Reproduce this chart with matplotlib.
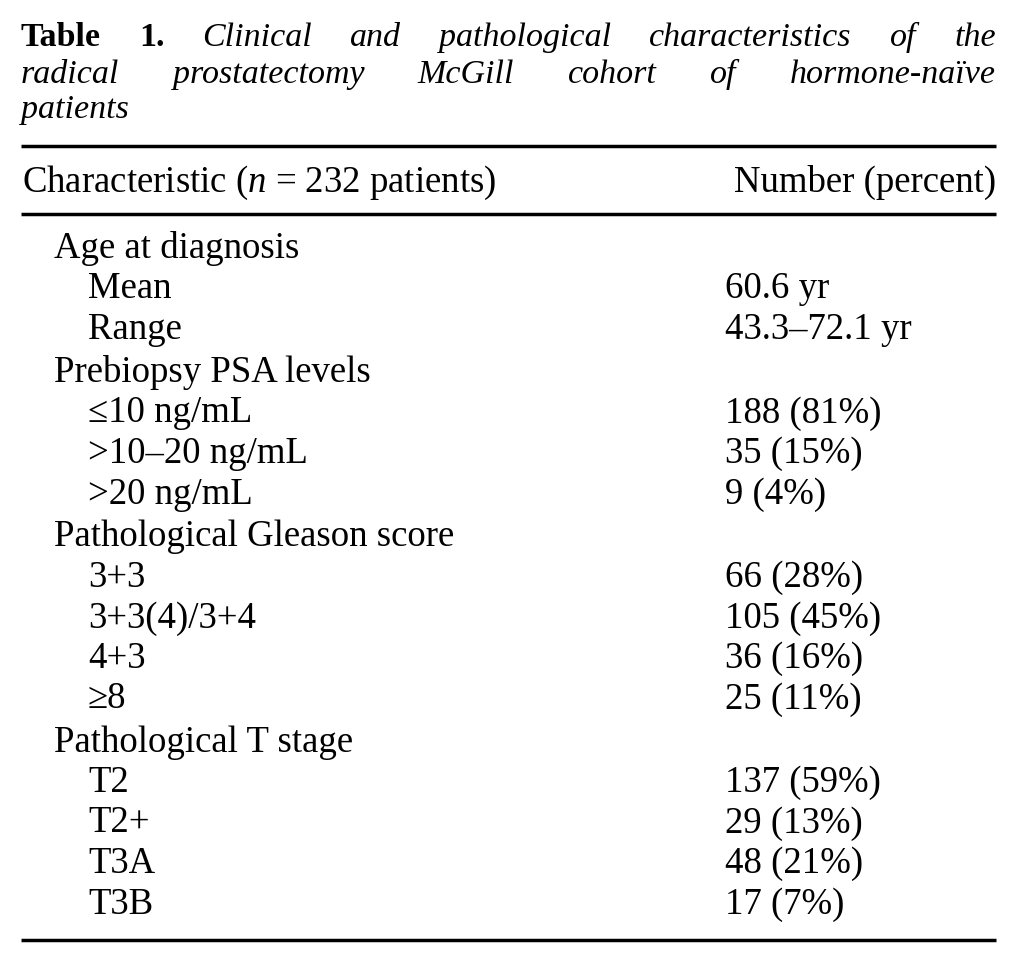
import matplotlib
matplotlib.use("Agg")
import matplotlib.pyplot as plt

W, H = 1015, 963
FONT = "Liberation Serif"
SIZE = 26.5
TITLE_SIZE = 24.5

# table content
title_lines = [
    [("Table", "bold"), ("1.", "bold"), ("Clinical", "italic"), ("and", "italic"),
     ("pathological", "italic"), ("characteristics", "italic"), ("of", "italic"), ("the", "italic")],
    [("radical", "italic"), ("prostatectomy", "italic"), ("McGill", "italic"), ("cohort", "italic"),
     ("of", "italic"), ("hormone-naïve", "italic")],
    [("patients", "italic")],
]
header_left = "Characteristic ($\\mathit{n}$ = 232 patients)"
header_right = "Number (percent)"

groups = ["Age at diagnosis", "Prebiopsy PSA levels", "Pathological Gleason score",
          "Pathological T stage"]
age_items = ["Mean", "Range"]
age_values = ["60.6 yr", "43.3–72.1 yr"]
psa_items = ["≤10 ng/mL", ">10–20 ng/mL", ">20 ng/mL"]
psa_values = ["188 (81%)", "35 (15%)", "9 (4%)"]
gleason_items = ["3+3", "3+3(4)/3+4", "4+3", "≥8"]
gleason_values = ["66 (28%)", "105 (45%)", "36 (16%)", "25 (11%)"]
stage_items = ["T2", "T2+", "T3A", "T3B"]
stage_values = ["137 (59%)", "29 (13%)", "48 (21%)", "17 (7%)"]

sections = list(zip(groups,
                    [age_items, psa_items, gleason_items, stage_items],
                    [age_values, psa_values, gleason_values, stage_values]))

plt.rcParams["mathtext.fontset"] = "custom"
plt.rcParams["mathtext.it"] = FONT + ":italic"
plt.rcParams["mathtext.rm"] = FONT

fig = plt.figure(figsize=(W / 100, H / 100), dpi=100)
ax = fig.add_axes([0, 0, 1, 1])
ax.set_xlim(0, W)
ax.set_ylim(H, 0)
ax.axis("off")

left, right = 21, 996
renderer = fig.canvas.get_renderer()


def text_width(t):
    return t.get_window_extent(renderer=renderer).width


# justified title
title_base = [46, 83, 118]
for i, words in enumerate(title_lines):
    arts = []
    for w, style in words:
        kw = dict(fontweight="bold") if style == "bold" else dict(fontstyle="italic")
        arts.append(ax.text(0, title_base[i], w, fontsize=TITLE_SIZE, family=FONT,
                            va="baseline", ha="left", **kw))
    widths = [text_width(a) for a in arts]
    if len(arts) > 1 and i < len(title_lines) - 1:
        gap = (right - left - sum(widths)) / (len(arts) - 1)
    else:
        gap = 8
    x = left
    for a, w in zip(arts, widths):
        a.set_x(x)
        x += w + gap

# rules
for y in [146, 214, 940]:
    ax.plot([left, right], [y, y], color="black", lw=2.5, solid_capstyle="butt")

# header
ax.text(left + 1, 192, header_left, fontsize=SIZE, family=FONT, va="baseline")
ax.text(right, 192, header_right, fontsize=SIZE, family=FONT, va="baseline", ha="right")

col_group, col_item, col_val = 54, 88, 725
item_step, group_step = 40.5, 43
y = 258 - group_step
for g, items, vals in sections:
    y += group_step
    ax.text(col_group, y, g, fontsize=SIZE, family=FONT, va="baseline")
    for it, v in zip(items, vals):
        y += item_step
        ax.text(col_item, y, it, fontsize=SIZE, family=FONT, va="baseline")
        ax.text(col_val, y, v, fontsize=SIZE, family=FONT, va="baseline")

fig.savefig("out.png", dpi=100, facecolor="white")
